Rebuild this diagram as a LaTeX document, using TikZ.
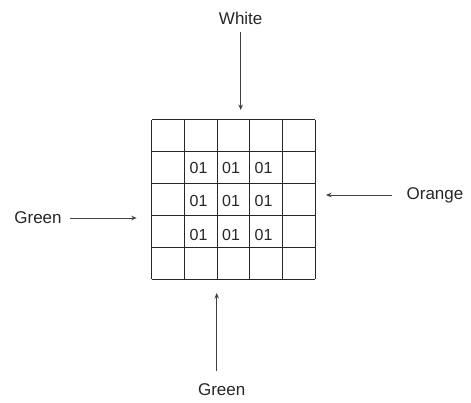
\documentclass[tikz,border=0pt]{standalone}
\usepackage{fontspec}
\setmainfont{Liberation Sans}
\usetikzlibrary{arrows.meta, calc, positioning}

\begin{document}
\begin{tikzpicture}[
    x=1pt, y=-1pt,
    >={Stealth[length=5.5pt, width=4.5pt]},
    every node/.style={text=black!85, inner sep=0pt},
    side/.style={font=\fontsize{17}{20}\selectfont},
    cell/.style={font=\fontsize{16}{19}\selectfont},
    feed/.style={->, black!75, line width=0.9pt},
    board/.style={black!85, line width=1pt},
]
\useasboundingbox (0,0) rectangle (471,403);
% 5x5 board: left x=151.7, top y=120, cells about 32.7 x 31.9
\foreach \i in {0,...,5} {
  \draw[board] (151.7+32.66*\i,120) -- (151.7+32.66*\i,279.3);
  \draw[board] (151.7,120+31.86*\i) -- (315,120+31.86*\i);
}
% the 3x3 block in the middle
\foreach \r in {1,2,3} {
  \foreach \c in {1,2,3} {
    \node[cell] (n\r\c) at (198.5+32.5*\c-32.5, 167.5+33.5*\r-33.5) {01};
  }
}
% the four sides and their arrows
\node[side] (white)  at (240.7,18)  {White};
\node[side] (orange) at (435,195)   {Orange};
\node[side] (greenL) at (38,218)    {Green};
\node[side] (greenB) at (221.7,390) {Green};
\coordinate (whiteTip)  at (240.7,110);
\coordinate (orangeTip) at (326,195);
\coordinate (greenLTip) at (136.7,218);
\coordinate (greenBTip) at (216.7,293);
\draw[feed, shorten <=8pt]  (white.south) -- (whiteTip);
\draw[feed, shorten <=14pt] (orange.west) -- (orangeTip);
\draw[feed, shorten <=8pt]  (greenL.east) -- (greenLTip);
\draw[feed, shorten <=13pt] (greenB.north -| greenBTip) -- (greenBTip);
\end{tikzpicture}
\end{document}
